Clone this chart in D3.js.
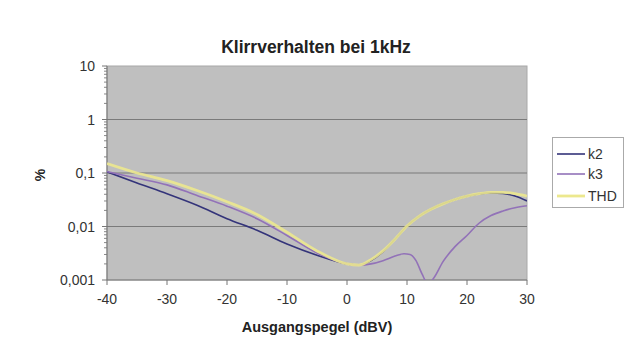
<!DOCTYPE html>
<html><head><meta charset="utf-8">
<script src="https://cdn.jsdelivr.net/npm/d3@7"></script>
<style>body{margin:0;background:#fff}svg{display:block}text{font-family:"Liberation Sans",Arial,sans-serif;fill:#222}</style>
</head><body><svg id="c" width="637" height="359"></svg>
<script>
const seriesNames = ["k2", "k3", "THD"];
const k2X = [-40,-35,-30,-25,-20,-15,-10,-5,0,2,4,6,8,10,12,14,16,18,20,22,24,26,28,30];
const k2Y = [0.105,0.065,0.041,0.025,0.014,0.0085,0.0047,0.0029,0.002,0.0019,0.0023,0.0034,0.0058,0.0102,0.0155,0.021,0.0265,0.032,0.037,0.041,0.0425,0.0415,0.037,0.030];
const k3X = [-40,-35,-30,-25,-20,-15,-10,-5,0,2,4,6,8,9.5,10.5,11.5,12.5,13.5,14.5,16,18,20,22,24,26,28,30];
const k3Y = [0.106,0.08,0.06,0.038,0.024,0.014,0.0068,0.0032,0.002,0.0019,0.002,0.0023,0.0028,0.0031,0.003,0.0023,0.0013,0.00085,0.0011,0.0022,0.0042,0.0068,0.0115,0.016,0.0195,0.0225,0.0245];
const thdX = [-40,-35,-30,-25,-20,-15,-10,-5,0,2,4,6,8,10,12,14,16,18,20,22,24,26,28,30];
const thdY = [0.15,0.1,0.072,0.047,0.029,0.0168,0.0078,0.0035,0.002,0.0019,0.0024,0.0035,0.0058,0.0102,0.0155,0.021,0.0265,0.032,0.037,0.041,0.0435,0.0435,0.041,0.037];
const xTicks = [-40,-30,-20,-10,0,10,20,30];
const yTicks = [0.001,0.01,0.1,1,10];
const yTickLabels = ["0,001","0,01","0,1","1","10"];
const colors = ["#34347a","#9272b8","#ece88e"];
const widths = [1.6,1.6,2.8];

const svg = d3.select("#c");
const L=107, R=527, T=66, B=280;
const x = d3.scaleLinear().domain([-40,30]).range([L,R]);
const y = d3.scaleLog().domain([0.001,10]).range([B,T]);

svg.append("text").attr("x",316).attr("y",53).attr("text-anchor","middle")
  .style("font-size","17.5px").style("font-weight","bold").text("Klirrverhalten bei 1kHz");

svg.append("rect").attr("x",L).attr("y",T).attr("width",R-L).attr("height",B-T).attr("fill","#bfbfbf").attr("stroke","#a8a8a8");

// gridlines
svg.append("g").selectAll("line").data(yTicks.slice(1,4)).join("line")
  .attr("x1",L).attr("x2",R).attr("y1",d=>y(d)).attr("y2",d=>y(d))
  .attr("stroke","#7a7a7a").attr("stroke-width",1.2);

// y axis
const minor = [];
for (let e=-3;e<1;e++) for (let m=2;m<10;m++) minor.push(m*Math.pow(10,e));
const yax = svg.append("g");
yax.selectAll("line.mi").data(minor).join("line").attr("class","mi")
  .attr("x1",L-3).attr("x2",L).attr("y1",d=>y(d)).attr("y2",d=>y(d)).attr("stroke","#888");
yax.selectAll("line.ma").data(yTicks).join("line").attr("class","ma")
  .attr("x1",L-5).attr("x2",L).attr("y1",d=>y(d)).attr("y2",d=>y(d)).attr("stroke","#777");
yax.append("line").attr("x1",L).attr("x2",L).attr("y1",T).attr("y2",B).attr("stroke","#777");
yax.selectAll("text").data(yTicks).join("text")
  .attr("x",L-12).attr("y",d=>y(d)+5).attr("text-anchor","end").style("font-size","14px").style("fill","#333")
  .text((d,i)=>yTickLabels[i]);

// x axis
const xax = svg.append("g");
xax.append("line").attr("x1",L).attr("x2",R).attr("y1",B).attr("y2",B).attr("stroke","#777");
xax.selectAll("line.t").data(xTicks).join("line").attr("class","t")
  .attr("x1",d=>x(d)).attr("x2",d=>x(d)).attr("y1",B).attr("y2",B+5).attr("stroke","#777");
xax.selectAll("text").data(xTicks).join("text")
  .attr("x",d=>x(d)).attr("y",B+24).attr("text-anchor","middle").style("font-size","14px").style("fill","#333")
  .text(d=>d);

svg.append("text").attr("x",317).attr("y",332).attr("text-anchor","middle")
  .style("font-size","14.5px").style("font-weight","bold").text("Ausgangspegel (dBV)");
svg.append("text").attr("transform","translate(45,175) rotate(-90)").attr("text-anchor","middle")
  .style("font-size","14px").style("font-weight","bold").text("%");

// clip
svg.append("clipPath").attr("id","pc").append("rect").attr("x",L).attr("y",T).attr("width",R-L).attr("height",B-T);

const data = [d3.zip(k2X,k2Y), d3.zip(k3X,k3Y), d3.zip(thdX,thdY)];
const line = d3.line().x(d=>x(d[0])).y(d=>y(d[1])).curve(d3.curveMonotoneX);
const order = [0,1,2];
const lg = svg.append("g").attr("clip-path","url(#pc)");
order.forEach(i=>{
  lg.append("path").attr("d",line(data[i])).attr("fill","none").attr("stroke",colors[i]).attr("stroke-width",widths[i]).attr("opacity",i===2?0.9:1);
});

// legend
const leg = svg.append("g");
leg.append("rect").attr("x",552.5).attr("y",137.5).attr("width",71).attr("height",70).attr("fill","#fff").attr("stroke","#aaa");
const legY = [154,174,196];
seriesNames.forEach((n,i)=>{
  leg.append("line").attr("x1",557).attr("x2",585).attr("y1",legY[i]).attr("y2",legY[i]).attr("stroke",colors[i]).attr("stroke-width",widths[i]);
  leg.append("text").attr("x",588).attr("y",legY[i]+5).style("font-size","14px").style("fill","#333").text(n);
});
</script></body></html>
